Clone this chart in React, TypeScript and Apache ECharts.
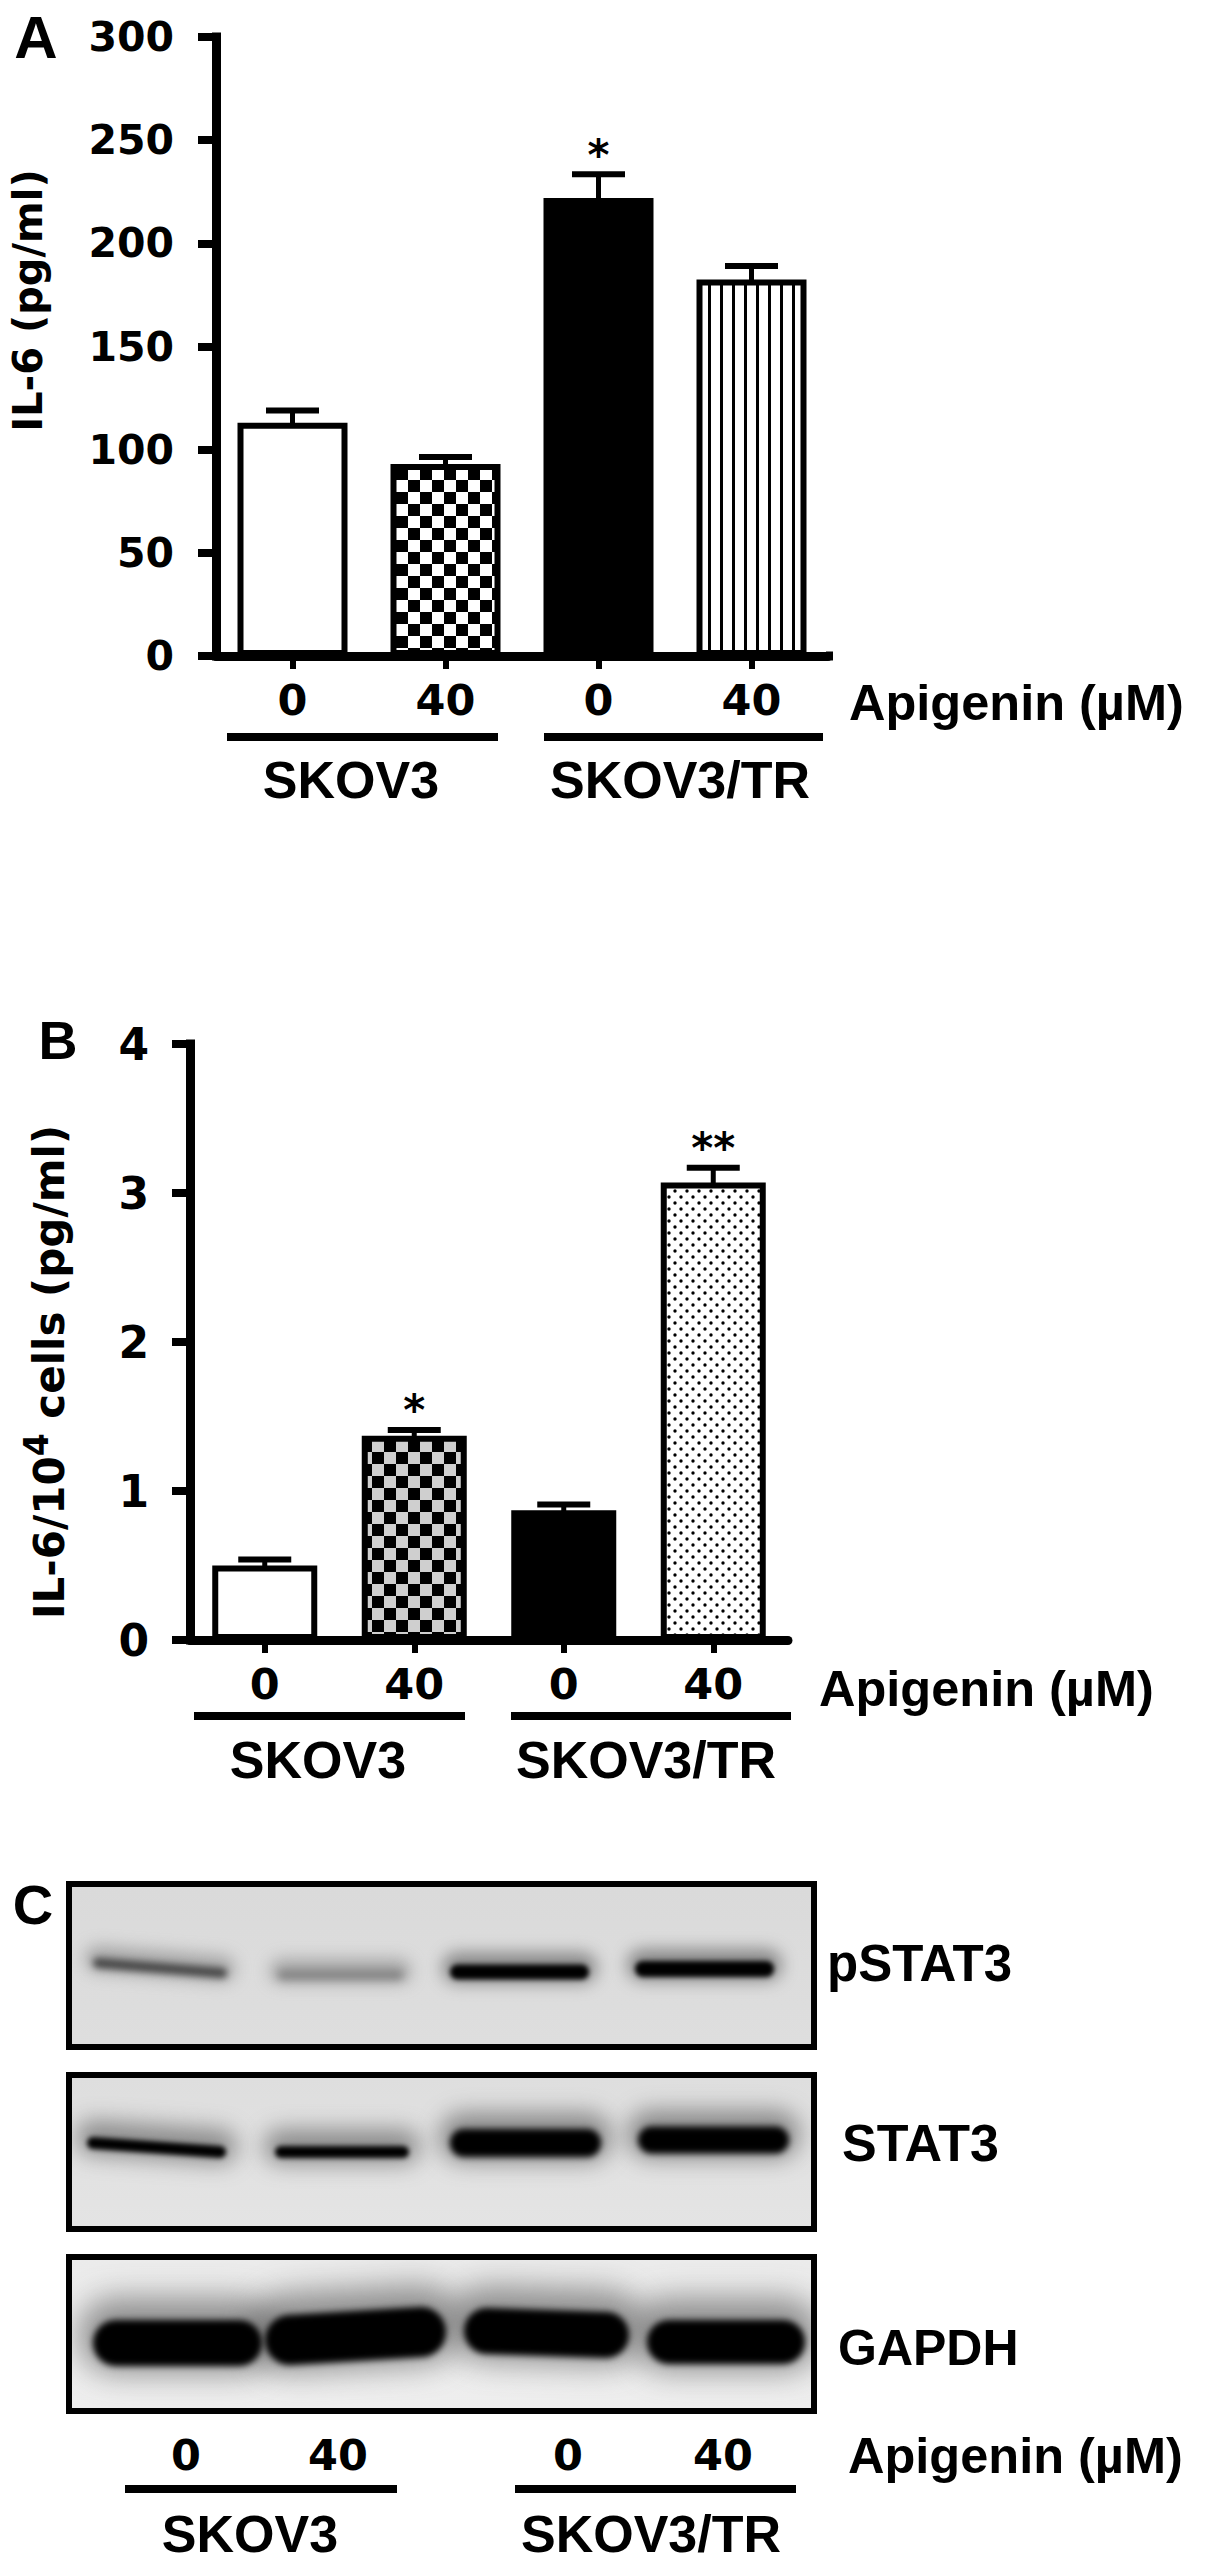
import React, { useEffect, useRef } from "react";
import * as echarts from "echarts";

const doseLabels = ["0", "40", "0", "40"];
const il6Ticks = [0, 300, 50];
const il6Means = [113, 93, 222, 182.5];
const il6Upper = [119, 96.5, 233.5, 189];
const il6Marks = ["", "", "*", ""];
const perCellMeans = [0.5, 1.37, 0.87, 3.07];
const perCellUpper = [0.54, 1.41, 0.91, 3.17];
const perCellMarks = ["", "*", "", "**"];

// blot bands: x1, x2, y1, y2, thickness, grey level, blur (page pixels)
const pstat3Bands = [
  [93, 227, 1963, 1973, 10, 70, 3.5],
  [278, 403, 1975, 1975, 8, 125, 4],
  [450, 589, 1972, 1972, 15, 0, 2.5],
  [635, 774, 1969, 1969, 16, 0, 2.5],
];
const stat3Bands = [
  [87, 226, 2143, 2152, 12, 0, 2.5],
  [275, 409, 2152, 2152, 12, 0, 2.5],
  [450, 601, 2143, 2143, 28, 0, 3],
  [638, 789, 2140, 2140, 27, 0, 3],
];
const gapdhBands = [
  [93, 262, 2343, 2343, 46, 0, 3],
  [265, 446, 2340, 2332, 50, 0, 3],
  [464, 629, 2331, 2335, 46, 0, 3],
  [647, 805, 2342, 2342, 44, 0, 3],
];

const SANS = "DejaVu Sans";
const ARIAL = "Liberation Sans";

function tile(size: number, draw: (c: CanvasRenderingContext2D) => void, bg: string) {
  const cv = document.createElement("canvas");
  cv.width = size;
  cv.height = size;
  const c = cv.getContext("2d")!;
  c.fillStyle = bg;
  c.fillRect(0, 0, size, size);
  c.fillStyle = "#000";
  draw(c);
  return cv;
}
function pattern(cv: HTMLCanvasElement, x: number, y: number) {
  return { image: cv, repeat: "repeat", imageWidth: cv.width, imageHeight: cv.height, x, y };
}
const checker = (bg: string, x: number, y: number) =>
  pattern(
    tile(24, (c) => {
      c.fillRect(0, 0, 12, 12);
      c.fillRect(12, 12, 12, 12);
    }, bg),
    x,
    y
  );
const stripes = (x: number) => pattern(tile(12, (c) => c.fillRect(0, 0, 3, 12), "#fff"), x, 0);
const dots = (x: number, y: number) =>
  pattern(
    tile(12, (c) => {
      c.beginPath();
      c.arc(3, 3, 1.7, 0, Math.PI * 2);
      c.arc(9, 9, 1.7, 0, Math.PI * 2);
      c.fill();
    }, "#fff"),
    x,
    y
  );

function errorSeries(gridIndex: number, upper: number[], marks: string[], means: number[]) {
  return {
    type: "custom",
    xAxisIndex: gridIndex,
    yAxisIndex: gridIndex,
    clip: false,
    z: 5,
    data: upper.map((u, i) => [i, u, means[i]]),
    encode: { x: 0, y: 1 },
    renderItem(_p: any, api: any) {
      const top = api.coord([api.value(0), api.value(1)]);
      const base = api.coord([api.value(0), api.value(2)]);
      const mark = marks[api.value(0)];
      const children: any[] = [
        { type: "rect", shape: { x: top[0] - 26.5, y: top[1] - 3, width: 53, height: 6 }, style: { fill: "#000" } },
        { type: "rect", shape: { x: top[0] - 2.5, y: top[1], width: 5, height: base[1] - top[1] + 2 }, style: { fill: "#000" } },
      ];
      if (mark) {
        children.push({
          type: "text",
          style: {
            text: mark,
            x: top[0],
            y: top[1] - 19,
            align: "center",
            verticalAlign: "middle",
            fontFamily: SANS,
            fontWeight: "bold",
            fontSize: 42,
            fill: "#000",
          },
        });
      }
      return { type: "group", children };
    },
  };
}

function txt(text: string, x: number, y: number, fontSize = 52, align = "center", family = ARIAL) {
  return {
    type: "text",
    z: 20,
    style: { text, x, y, align, verticalAlign: "middle", fontFamily: family, fontWeight: "bold", fontSize, fill: "#000" },
  };
}
function bar(x1: number, x2: number, y: number, h = 8) {
  return { type: "rect", z: 20, shape: { x: x1, y: y - h / 2, width: x2 - x1, height: h }, style: { fill: "#000" } };
}
// The western blot panels are photographs, so they are painted as images with soft, blurred bands.
function blot(x1: number, y1: number, x2: number, y2: number, topGrey: string, botGrey: string, bands: number[][], halo: number) {
  const W = x2 - x1;
  const H = y2 - y1;
  const cv = document.createElement("canvas");
  cv.width = W;
  cv.height = H;
  const c = cv.getContext("2d")!;
  const g = c.createLinearGradient(0, 0, 0, H);
  g.addColorStop(0, topGrey);
  g.addColorStop(1, botGrey);
  c.fillStyle = g;
  c.fillRect(0, 0, W, H);
  c.lineCap = "round";
  const stroke = (b: number[], width: number, dy: number, grey: number, alpha: number, blurPx: number) => {
    c.filter = `blur(${blurPx}px)`;
    c.globalAlpha = alpha;
    c.strokeStyle = `rgb(${grey},${grey},${grey})`;
    c.lineWidth = width;
    c.beginPath();
    c.moveTo(b[0] + b[4] / 2 - x1, b[2] - y1 + dy);
    c.lineTo(b[1] - b[4] / 2 - x1, b[3] - y1 + dy);
    c.stroke();
  };
  bands.forEach((b) => stroke(b, b[4] + halo, -halo / 4, Math.min(120, b[5] + 70), 0.55, halo / 2));
  bands.forEach((b) => stroke(b, b[4], 0, b[5], 1, b[6]));
  return [
    { type: "image", z: 10, style: { image: cv.toDataURL(), x: x1, y: y1, width: W, height: H } },
    {
      type: "rect",
      z: 11,
      shape: { x: x1, y: y1, width: W, height: H },
      style: { fill: "none", stroke: "#000", lineWidth: 6 },
    },
  ];
}

function axes(min: number, max: number, interval: number, name: any, nameGap: number, rich: any, fontSize: number, margin: number, nameSize: number, padding: number[]) {
  return {
    type: "value",
    min,
    max,
    interval,
    name,
    nameLocation: "middle",
    nameGap,
    nameTextStyle: { fontFamily: SANS, fontWeight: "bold", fontSize: nameSize, color: "#000", rich, padding },
    splitLine: { show: false },
    axisLine: { show: true, lineStyle: { color: "#000", width: 9, cap: "square" } },
    axisTick: { show: true, length: 18, lineStyle: { color: "#000", width: 8 } },
    axisLabel: { fontFamily: SANS, fontWeight: "bold", fontSize, color: "#000", margin },
  };
}
function catAxis(gridIndex: number, margin: number) {
  return {
    type: "category",
    gridIndex,
    data: doseLabels.map((d, i) => ({ value: i + ":" + d })),
    axisLine: { show: true, onZero: false, lineStyle: { color: "#000", width: 9 } },
    axisTick: { show: true, alignWithLabel: true, length: 13, lineStyle: { color: "#000", width: 6 } },
    axisLabel: {
      fontFamily: SANS,
      fontWeight: "bold",
      fontSize: 43,
      color: "#000",
      margin,
      interval: 0,
      formatter: (v: string) => v.split(":")[1],
    },
  };
}

export default function App() {
  const ref = useRef<HTMLDivElement>(null);
  useEffect(() => {
    document.body.style.margin = "0";
    const chart = echarts.init(ref.current!, undefined, { renderer: "svg" });
    const stylesA = ["#fff", checker("#fff", 17, 19), "#000", stripes(718 % 12)];
    const stylesB = ["#fff", checker("#cfcfcf", 8, 11), "#000", dots(4, 9)];
    const itemsOf = (vals: number[], styles: any[]) =>
      vals.map((value, i) => ({ value, itemStyle: { color: styles[i], borderColor: "#000", borderWidth: 6 } }));

    chart.setOption({
      animation: false,
      backgroundColor: "#fff",
      grid: [
        { left: 210, top: 37, width: 618, height: 619 },
        { left: 190, top: 1044, width: 598, height: 596 },
      ],
      xAxis: [catAxis(0, 22), catAxis(1, 22)],
      yAxis: [
        { gridIndex: 0, ...axes(il6Ticks[0], il6Ticks[1], il6Ticks[2], "IL-6 (pg/ml)", 168, undefined, 41, 42, 40, [0, 0, 0, 92]) },
        {
          gridIndex: 1,
          ...axes(0, 4, 1, "IL-6/10{sup|4} cells (pg/ml)", 112, { sup: { fontFamily: SANS, fontWeight: "bold", fontSize: 33, lineHeight: 58, verticalAlign: "top", color: "#000" } }, 44, 41, 42, [0, 60, 0, 0]),
        },
      ],
      series: [
        { type: "bar", xAxisIndex: 0, yAxisIndex: 0, barWidth: 110, data: itemsOf(il6Means, stylesA), z: 3 },
        errorSeries(0, il6Upper, il6Marks, il6Means),
        { type: "bar", xAxisIndex: 1, yAxisIndex: 1, barWidth: 105, data: itemsOf(perCellMeans, stylesB), z: 3 },
        errorSeries(1, perCellUpper, perCellMarks, perCellMeans),
      ],
      graphic: {
        elements: [
          bar(826, 833, 656, 9),
          txt("A", 36, 37, 60),
          txt("B", 58, 1040, 54),
          txt("C", 33, 1904, 56),
          txt("Apigenin (\u00b5M)", 849, 702, 50.5, "left"),
          bar(227, 498, 737),
          bar(544, 823, 737),
          txt("SKOV3", 351, 780),
          txt("SKOV3/TR", 680, 780),
          txt("Apigenin (\u00b5M)", 819, 1688, 50.5, "left"),
          bar(194, 465, 1716),
          bar(511, 791, 1716),
          txt("SKOV3", 318, 1760),
          txt("SKOV3/TR", 646, 1760),

          ...blot(69, 1884, 814, 2047, "#dadada", "#dedede", pstat3Bands, 16),
          ...blot(69, 2075, 814, 2229, "#dedede", "#e4e4e4", stat3Bands, 22),
          ...blot(69, 2257, 814, 2411, "#ebebeb", "#eeeeee", gapdhBands, 30),

          txt("pSTAT3", 827, 1963, 51, "left"),
          txt("STAT3", 842, 2143, 52, "left"),
          txt("GAPDH", 838, 2348, 50, "left"),

          txt("0", 186, 2455, 43, "center", SANS),
          txt("40", 338, 2455, 43, "center", SANS),
          txt("0", 568, 2455, 43, "center", SANS),
          txt("40", 723, 2455, 43, "center", SANS),
          txt("Apigenin (\u00b5M)", 848, 2455, 50.5, "left"),
          bar(125, 397, 2489),
          bar(515, 796, 2489),
          txt("SKOV3", 250, 2534),
          txt("SKOV3/TR", 651, 2534),
        ],
      },
    });
    return () => chart.dispose();
  }, []);
  return <div ref={ref} style={{ width: 1205, height: 2568 }} />;
}
